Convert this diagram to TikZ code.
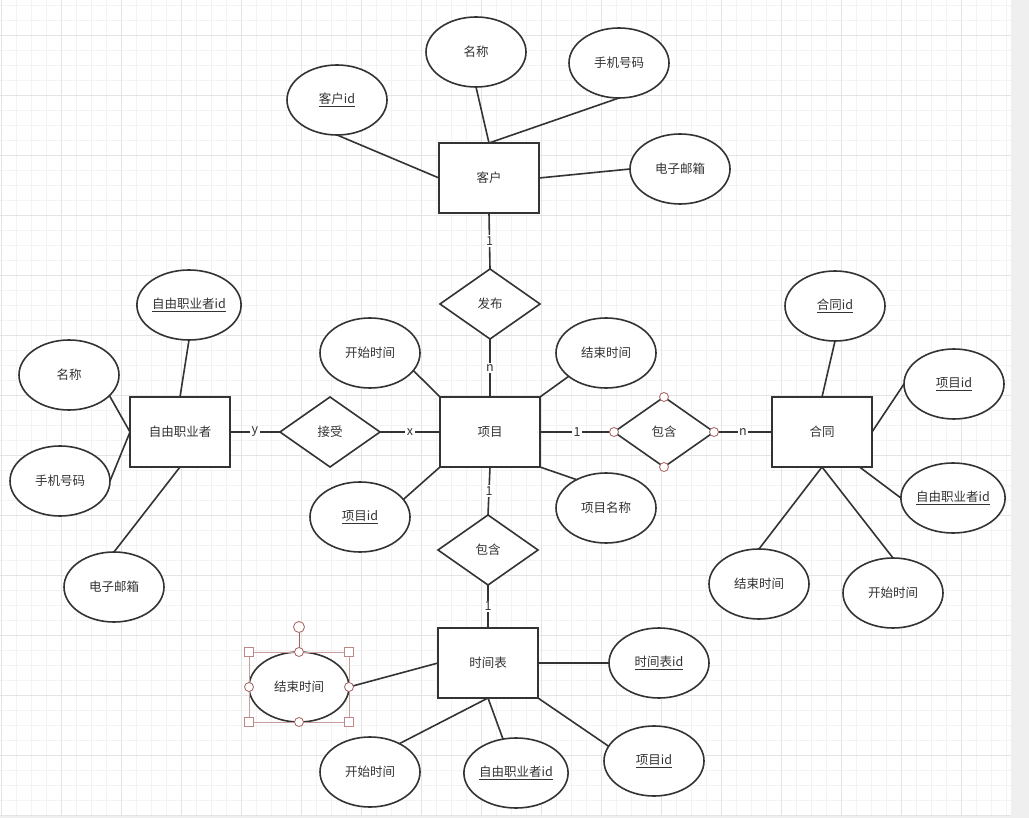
\documentclass[tikz,border=0pt]{standalone}
\usepackage{fontspec}
\setmainfont{Noto Sans CJK SC}
\usetikzlibrary{shapes.geometric}
\definecolor{cline}{HTML}{333333}
\definecolor{cminor}{HTML}{F3F3F3}
\definecolor{cmajor}{HTML}{E4E4E4}
\definecolor{cstrip}{HTML}{EFEFEF}
\definecolor{csel}{HTML}{A45F5F}
\tikzset{
  every picture/.style={font=\fontsize{12.5}{15}\selectfont, line width=1.6pt},
  entity/.style={draw=cline, fill=white, text=cline, minimum width=100pt, minimum height=70pt, inner sep=0pt, outer sep=0pt},
  attr/.style={entity, ellipse},
  rel/.style={entity, diamond, aspect=1.43},
  link/.style={draw=cline},
  card/.style={fill=white, text=cline, inner sep=1.5pt},
  hcirc/.style={circle, draw=csel, fill=white, line width=0.8pt, minimum size=9pt, inner sep=0pt},
  hbox/.style={draw=csel!75, fill=white, line width=0.8pt, minimum size=9pt, inner sep=0pt},
}

\begin{document}
\begin{tikzpicture}[x=1pt, y=-1pt]
  \useasboundingbox (0,0) rectangle (1029,818);
  % canvas
  \fill[cstrip] (0,0) rectangle (1029,818);
  \fill[white] (0,0) rectangle (1011,815);
  \foreach \k in {0,...,67} \draw[cminor, line width=0.8pt] ({1.7+15*\k},0) -- ++(0,815);
  \foreach \k in {0,...,54} \draw[cminor, line width=0.8pt] (0,{5+15*\k}) -- ++(1011,0);
  \foreach \k in {0,...,16} \draw[cmajor, line width=0.8pt] ({1.7+60*\k},0) -- ++(0,815);
  \foreach \k in {0,...,13} \draw[cmajor, line width=0.8pt] (0,{35+60*\k}) -- ++(1011,0);
  % entities
  \foreach \n/\x/\y/\t in {cust/489/178/客户, proj/490/432/项目, free/180/432/自由职业者, contr/822/432/合同, sched/488/663/时间表}
    \node[entity] (\n) at (\x,\y) {\t};
  % relationships
  \foreach \n/\x/\y/\t in {pub/490/304/发布, acc/330/432/接受, incr/664/432/包含, incb/488/550/包含}
    \node[rel] (\n) at (\x,\y) {\t};
  % attributes
  \foreach \n/\x/\y/\t in {cname/476/52/名称, cphone/619/63/手机号码, cmail/680/169/电子邮箱,
      fname/69/375/名称, fphone/60/481/手机号码, fmail/114/587/电子邮箱,
      pstart/370/353/开始时间, pend/606/353/结束时间, pname/606/508/项目名称,
      kend/759/584/结束时间, kstart/893/593/开始时间, send/299/687/结束时间, sstart/370/772/开始时间}
    \node[attr] (\n) at (\x,\y) {\t};
  % key attributes
  \foreach \n/\x/\y/\t in {cid/337/100/客户id, fid/189/305/自由职业者id, pid/360/517/项目id,
      kid/835/306/合同id, kpid/954/384/项目id, kfid/953/498/自由职业者id,
      sid/659/663/时间表id, spid/654/761/项目id, sfid/516/773/自由职业者id}
    \node[attr] (\n) at (\x,\y) {\underline{\t}};
  % attribute links
  \foreach \a/\b in {cid.south/cust.west, cname.south/cust.north, cphone.south/cust.north, cmail.west/cust.east,
      fid.south/free.north, fname.-27/free.west, fphone.east/free.west, fmail.north/free.south,
      pstart.-22/proj.north west, pend.-148/proj.north east, pid.22/proj.south west, pname.136/proj.south east,
      kid.south/contr.north, kpid.west/contr.east, kfid.west/contr.-43, kend.north/contr.south, kstart.north/contr.south,
      send.east/sched.west, sid.west/sched.east, spid.162/sched.south east, sstart.44/sched.south, sfid.111/sched.south}
    \draw[link] (\a) -- (\b);
  % relationship links
  \foreach \a/\b/\l in {cust.south/pub.north/1, pub.south/proj.north/n, free.east/acc.west/y, acc.east/proj.west/x,
      proj.east/incr.west/1, incr.east/contr.west/n, proj.south/incb.north/1, incb.south/sched.north/1}
    \draw[link] (\a) -- node[card] {\l} (\b);
  % selection handles
  \foreach \a in {north, south, east, west} \node[hcirc] at (incr.\a) {};
  \draw[csel!60, line width=0.8pt] (send.west |- send.north) rectangle (send.east |- send.south);
  \node[hcirc, minimum size=11pt] (rot) at (299,627) {};
  \draw[csel, line width=0.8pt] (rot) -- (send.north);
  \foreach \h/\v in {west/north, east/north, west/south, east/south} \node[hbox] at (send.\h |- send.\v) {};
  \foreach \a in {north, south, east, west} \node[hcirc] at (send.\a) {};
\end{tikzpicture}
\end{document}
